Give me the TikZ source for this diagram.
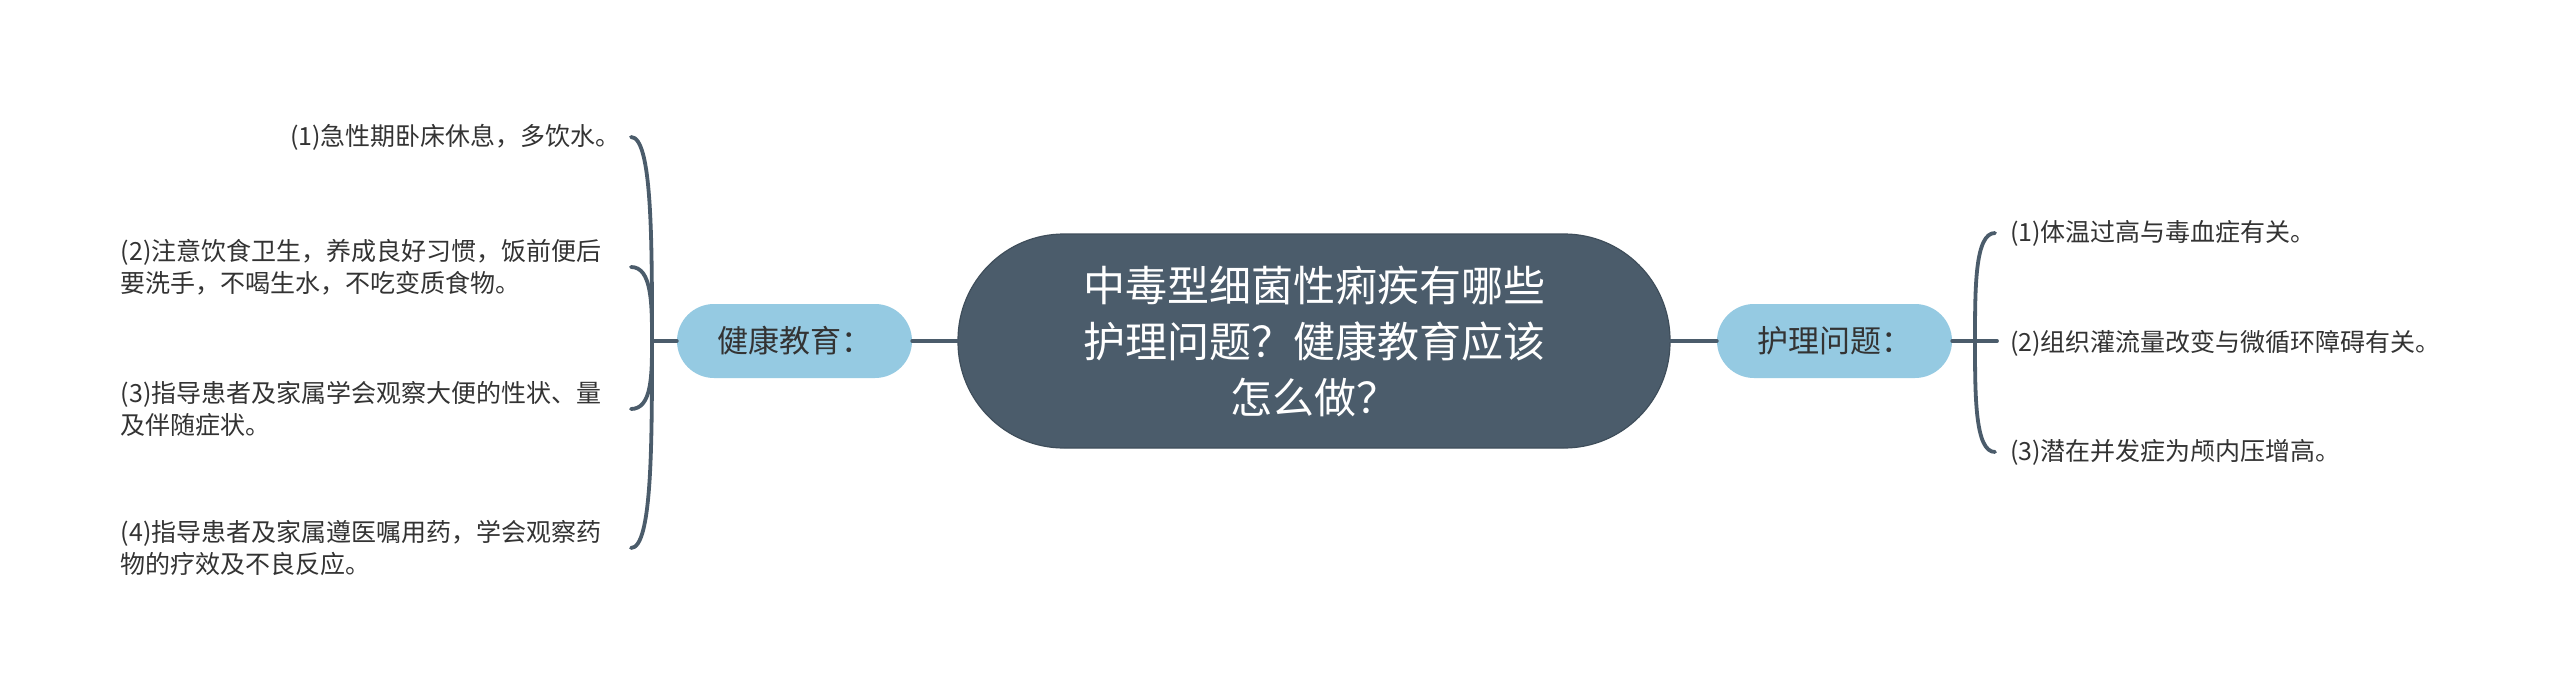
\documentclass[tikz,border=0pt]{standalone}
\usepackage{fontspec}
\setmainfont{Noto Sans CJK SC}
\usetikzlibrary{calc}
\definecolor{slate}{HTML}{4B5C6B}
\definecolor{slateedge}{HTML}{3F4E5B}
\definecolor{branchblue}{HTML}{95CAE2}
\definecolor{txt}{HTML}{333333}
\begin{document}
\begin{tikzpicture}[x=1pt,y=-1pt,
  conn/.style={draw=slate,line width=3.8pt,line cap=round},
  rootbox/.style={rectangle,rounded corners=106pt,fill=slate,draw=slateedge,line width=1.2pt,
    minimum width=712pt,minimum height=214pt,text=white,align=center,
    font=\fontsize{42}{56}\selectfont,inner sep=0pt},
  branchbox/.style={rectangle,rounded corners=37pt,fill=branchblue,minimum width=235pt,
    minimum height=74pt,text=txt,font=\fontsize{31}{36}\selectfont,inner sep=0pt},
  leaf/.style={text=txt,font=\fontsize{25}{31.5}\selectfont,inner sep=0pt,align=left},
]
\useasboundingbox[fill=white] (0,0) rectangle (2560,698);

\node[rootbox] (root) at (1314,341) {中毒型细菌性痢疾有哪些\\护理问题？健康教育应该\\怎么做？};
\node[branchbox] (edu) at (794.5,341) {健康教育：};
\node[branchbox] (care) at (1834.5,341) {护理问题：};

\node[leaf,anchor=east] (l1) at (621,137) {(1)急性期卧床休息，多饮水。};
\node[leaf,anchor=east,text width=500pt] (l2) at (621,267) {(2)注意饮食卫生，养成良好习惯，饭前便后\\要洗手，不喝生水，不吃变质食物。};
\node[leaf,anchor=east,text width=500pt] (l3) at (621,409) {(3)指导患者及家属学会观察大便的性状、量\\及伴随症状。};
\node[leaf,anchor=east,text width=500pt] (l4) at (621,548) {(4)指导患者及家属遵医嘱用药，学会观察药\\物的疗效及不良反应。};

\node[leaf,anchor=west] (r1) at (2010,233) {(1)体温过高与毒血症有关。};
\node[leaf,anchor=west] (r2) at (2010,343) {(2)组织灌流量改变与微循环障碍有关。};
\node[leaf,anchor=west] (r3) at (2010,452) {(3)潜在并发症为颅内压增高。};

\coordinate (jl) at (652,341);
\coordinate (jr) at (1975,341);
\coordinate (e1) at ([xshift=10pt]l1.east);
\coordinate (e2) at ([xshift=10pt]l2.east);
\coordinate (e3) at ([xshift=10pt]l3.east);
\coordinate (e4) at ([xshift=10pt]l4.east);
\coordinate (f1) at ([xshift=-15pt]r1.west);
\coordinate (f2) at ($(r2.west |- jr)+(-13,0)$);
\coordinate (f3) at ([xshift=-15pt]r3.west);

\draw[conn] (edu.east) -- (root.west);
\draw[conn] (root.east) -- (care.west);
\draw[conn] (edu.west) -- (jl);
\draw[conn] (care.east) -- (jr);
\draw[conn] (jr) -- (f2);
\foreach \e in {e1,e2,e3,e4}
  \draw[conn] (jl) .. controls ($(jl)!0.5!(jl|-\e)$) and (jl|-\e) .. (\e);
\foreach \e in {f1,f3}
  \draw[conn] (jr) .. controls ($(jr)!0.5!(jr|-\e)$) and (jr|-\e) .. (\e);
\end{tikzpicture}
\end{document}
